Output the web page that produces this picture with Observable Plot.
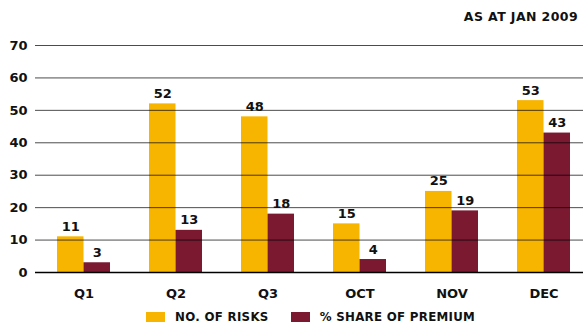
<!DOCTYPE html>
<html><head>
<meta charset="utf-8">
<script src="https://cdn.jsdelivr.net/npm/d3@7"></script>
<script src="https://cdn.jsdelivr.net/npm/@observablehq/plot@0.6"></script>
<style>
body{margin:0;background:#fff;font-family:"DejaVu Sans",sans-serif;}
#wrap{position:relative;width:583px;height:323px;overflow:hidden;}
#title{position:absolute;top:9px;right:5px;font-weight:bold;font-size:12.5px;color:#111;letter-spacing:0.4px;}
#chart{position:absolute;top:0;left:0;}
#legend{position:absolute;top:310px;left:146px;display:flex;align-items:center;font-weight:bold;font-size:11.8px;color:#111;letter-spacing:0.3px;}
.sw{display:inline-block;width:19px;height:10px;margin-right:10px;}
.item{display:flex;align-items:center;margin-right:22px;}
</style>
</head><body>
<div id="wrap">
<div id="chart"></div>
<div id="title">AS AT JAN 2009</div>
<div id="legend"></div>
</div>
<script>
const months = ["Q1", "Q2", "Q3", "OCT", "NOV", "DEC"];
const risks = [11, 52, 48, 15, 25, 53];
const premium = [3, 13, 18, 4, 19, 43];
const seriesNames = ["NO. OF RISKS", "% SHARE OF PREMIUM"];
const seriesColors = ["#F7B500", "#7A1930"];
const yTicks = [0, 10, 20, 30, 40, 50, 60, 70];

const rowsA = months.map((m, i) => ({month: m, value: risks[i]}));
const rowsB = months.map((m, i) => ({month: m, value: premium[i]}));
const half = 26.5;

const chart = Plot.plot({
  width: 583,
  height: 300,
  marginTop: 45,
  marginBottom: 28,
  marginLeft: 35,
  marginRight: 0,
  style: {fontFamily: "DejaVu Sans, sans-serif", fontWeight: "bold", fontSize: "13px", color: "#111", background: "transparent"},
  x: {type: "band", domain: months, range: [36.4, 590.2], paddingInner: 0.426, paddingOuter: 0.213, label: null, tickSize: 0, tickPadding: 16},
  y: {domain: [0, 70], ticks: yTicks, label: null, tickSize: 0, tickPadding: 8},
  marks: [
    Plot.barY(rowsA, {x: "month", y: "value", fill: seriesColors[0], insetRight: half}),
    Plot.barY(rowsB, {x: "month", y: "value", fill: seriesColors[1], insetLeft: half}),
    Plot.ruleY(yTicks.filter(d => d > 0), {stroke: "#000", strokeOpacity: 0.7, strokeWidth: 1}),
    Plot.ruleY([0], {stroke: "#000", strokeWidth: 1.5}),
    Plot.text(rowsA, {x: "month", y: "value", text: d => String(d.value), dx: -half / 2, dy: -6, lineAnchor: "bottom", fill: "#111", fontWeight: "bold", fontSize: 13}),
    Plot.text(rowsB, {x: "month", y: "value", text: d => String(d.value), dx: half / 2, dy: -6, lineAnchor: "bottom", fill: "#111", fontWeight: "bold", fontSize: 13})
  ]
});
document.getElementById("chart").appendChild(chart);

const legend = document.getElementById("legend");
seriesNames.forEach((n, i) => {
  const it = document.createElement("div");
  it.className = "item";
  const sw = document.createElement("span");
  sw.className = "sw";
  sw.style.background = seriesColors[i];
  it.appendChild(sw);
  it.appendChild(document.createTextNode(n));
  legend.appendChild(it);
});
</script>
</body></html>
